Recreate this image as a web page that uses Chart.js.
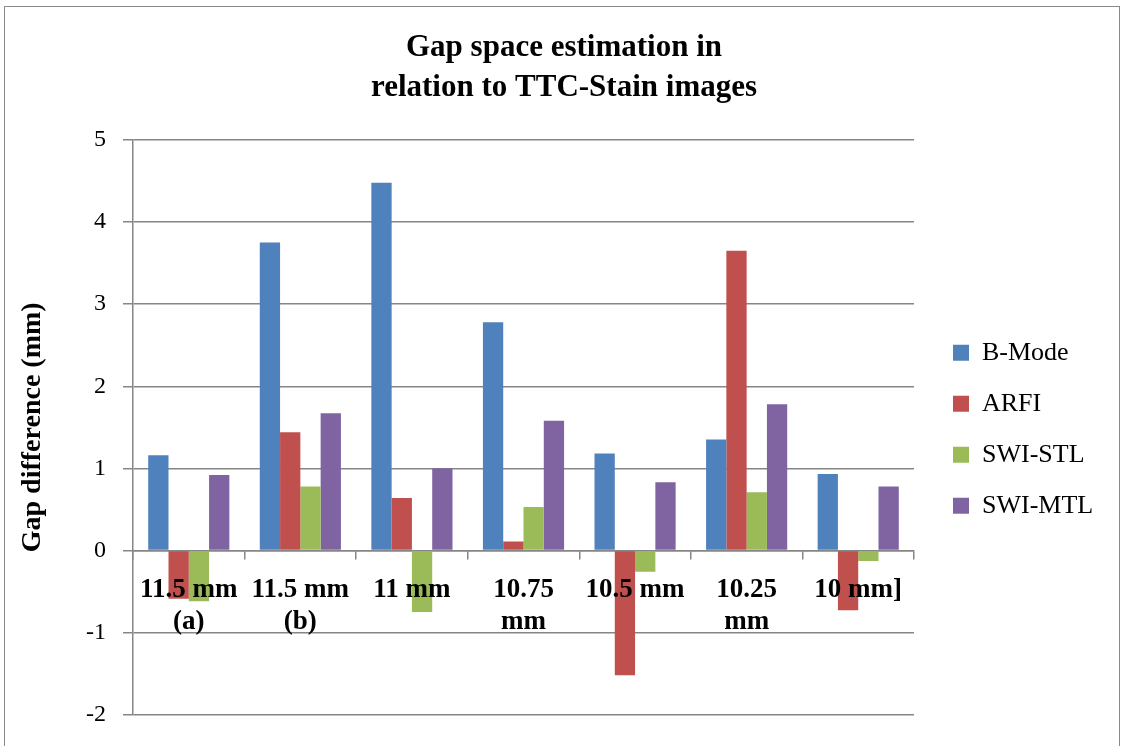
<!DOCTYPE html>
<html><head><meta charset="utf-8">
<script src="https://cdn.jsdelivr.net/npm/chart.js@4"></script>
<style>
html,body{margin:0;padding:0;background:#fff;overflow:hidden;width:1121px;height:746px}
#frame{position:absolute;left:4px;top:6px;width:1116px;height:800px;border:1.5px solid #8a8a8a;box-sizing:border-box}
canvas{position:absolute;left:0;top:0}
</style></head><body>
<div id="frame"></div>
<canvas id="c" width="1121" height="746"></canvas>
<script>
const categories = [["11.5 mm","(a)"],["11.5 mm","(b)"],"11 mm",["10.75","mm"],"10.5 mm",["10.25","mm"],"10 mm]"];
const seriesNames = ["B-Mode","ARFI","SWI-STL","SWI-MTL"];
const bMode  = [1.16, 3.75, 4.48, 2.78, 1.18, 1.35, 0.93];
const arfi   = [-0.59, 1.44, 0.64, 0.11, -1.52, 3.65, -0.73];
const swiStl = [-0.62, 0.78, -0.75, 0.53, -0.26, 0.71, -0.13];
const swiMtl = [0.92, 1.67, 1.00, 1.58, 0.83, 1.78, 0.78];
const yTicks = [-2, -1, 0, 1, 2, 3, 4, 5];
const titleLines = ["Gap space estimation in", "relation to TTC-Stain images"];
const yTitle = "Gap difference (mm)";
const colors = ["#4F81BD", "#C0504D", "#9BBB59", "#8064A2"];

const FAM = "'Liberation Serif', 'Times New Roman', serif";
const GRID = "#868686";
Chart.defaults.font.family = FAM;
Chart.defaults.color = "#000";

// layout geometry (pixels)
const legendFont = 26, legendPad = 25, legendBox = 16;
const mctx = document.createElement('canvas').getContext('2d');
mctx.font = legendFont + "px " + FAM;
const maxText = Math.max(...seriesNames.map(s => mctx.measureText(s).width));
const legendW = legendPad + legendBox + legendFont / 2 + maxText + 10;
const plotLeft = 133, plotRight = 914, legendLeft = 928;
const padRight = 1121 - legendLeft - legendW;
const padLeft = Math.max(0, 2 * 564 - (1121 - padRight));
const yTitleCenter = 33, yTitleSize = 28;

const values = [bMode, arfi, swiStl, swiMtl];
const datasets = seriesNames.map((n, i) => ({
  label: n, data: values[i], backgroundColor: colors[i], borderWidth: 0,
  categoryPercentage: 4 / 5.5, barPercentage: 1.0
}));

new Chart(document.getElementById('c'), {
  type: 'bar',
  data: { labels: categories, datasets },
  options: {
    responsive: false, animation: false,
    layout: { padding: { left: padLeft, top: 6, bottom: 28, right: padRight } },
    plugins: {
      tooltip: { enabled: false },
      title: {
        display: true, text: titleLines, color: '#000',
        font: { family: FAM, size: 31, weight: 'bold', lineHeight: 40 / 31 },
        padding: { top: 22, bottom: 32 }
      },
      legend: {
        position: 'right', fullSize: false, align: 'start',
        title: { display: true, text: '', padding: { top: 160.3, bottom: 0 }, font: { size: 12, lineHeight: 1.2 } },
        labels: {
          boxWidth: legendBox, boxHeight: legendBox, padding: legendPad, color: '#000',
          font: { family: FAM, size: legendFont }
        }
      }
    },
    scales: {
      x: {
        position: { y: 0 },
        grid: { display: true, drawOnChartArea: false, drawTicks: true, tickLength: 8, color: GRID, lineWidth: 1.5, offset: true },
        border: { display: true, color: GRID, width: 1.5 },
        ticks: { z: 1, color: '#000', font: { family: FAM, size: 27, weight: 'bold', lineHeight: 32.6 / 27 }, padding: 15, maxRotation: 0, minRotation: 0, autoSkip: false }
      },
      y: {
        min: -2, max: 5,
        afterBuildTicks: s => { s.ticks = yTicks.map(v => ({ value: v })); },
        afterFit: s => { s.width = plotLeft - padLeft; },
        grid: { color: GRID, lineWidth: 1.5, tickLength: 10, drawTicks: true },
        border: { color: GRID, width: 1.5 },
        ticks: { color: '#000', font: { family: FAM, size: 24 }, padding: 17 },
        title: {
          display: true, text: yTitle, color: '#000',
          font: { family: FAM, size: yTitleSize, weight: 'bold', lineHeight: 1 },
          padding: { top: yTitleCenter - padLeft - yTitleSize / 2, bottom: 0 }
        }
      },
      yR: {
        position: 'right', display: true,
        grid: { display: false }, border: { display: false }, ticks: { display: false },
        afterFit: s => { s.width = legendLeft - plotRight; }
      }
    }
  }
});
</script>
</body></html>
